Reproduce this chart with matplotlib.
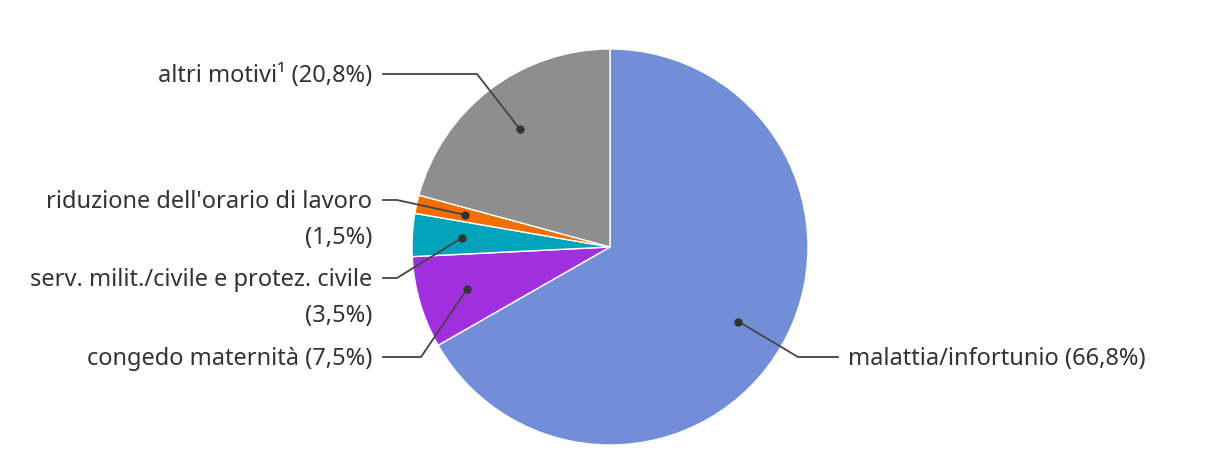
import numpy as np
import matplotlib.pyplot as plt

# data
labels = ["malattia/infortunio (66,8%)", "congedo maternità (7,5%)",
          "serv. milit./civile e protez. civile\n(3,5%)",
          "riduzione dell'orario di lavoro\n(1,5%)", "altri motivi¹ (20,8%)"]
values = [66.8, 7.5, 3.5, 1.5, 20.8]
colors = ["#728ed9", "#a12fde", "#00a3ba", "#f46d00", "#8e8e8e"]

# layout (pixel coords, y from top)
cx, cy, R = 610, 247, 198
label_y = [357, 357, 278, 200, 74]
elbow_x = [798, 421, 397, 397, 477]
W, H = 1220, 476

plt.rcParams['font.family'] = ['Noto Sans', 'DejaVu Sans']
fig = plt.figure(figsize=(12.2, 4.76), dpi=100)
ax = fig.add_axes([0, 0, 1, 1])

wedges, _ = ax.pie(values, colors=colors, startangle=90, counterclock=False,
                   center=(cx, H - cy), radius=R, normalize=True,
                   wedgeprops=dict(edgecolor='white', linewidth=1))
ax.set_xlim(0, W)
ax.set_ylim(0, H)
ax.set_aspect('equal')
ax.axis('off')

for w, lab, ly, ex in zip(wedges, labels, label_y, elbow_x):
    mid = np.deg2rad((w.theta1 + w.theta2) / 2)
    dx = cx + 0.75 * R * np.cos(mid)
    dy = (H - cy) + 0.75 * R * np.sin(mid)
    ey = H - ly
    right = np.cos(mid) > 0
    end_x = ex + 40 if right else 383
    ax.plot([dx, ex, end_x], [dy, ey, ey], color='#444444', lw=1.3, zorder=5)
    ax.plot(dx, dy, 'o', color='#333333', ms=5, zorder=6)
    first, *rest = lab.split("\n")
    tx = end_x + 10 if right else end_x - 11
    ha = 'left' if right else 'right'
    ax.text(tx, ey - 2, first, ha=ha, va='center', fontsize=17, color='#333333')
    for i, r in enumerate(rest):
        ax.text(tx, ey - 2 - 36 * (i + 1), r, ha=ha, va='center', fontsize=17, color='#333333')

fig.savefig("out.png", dpi=100)
